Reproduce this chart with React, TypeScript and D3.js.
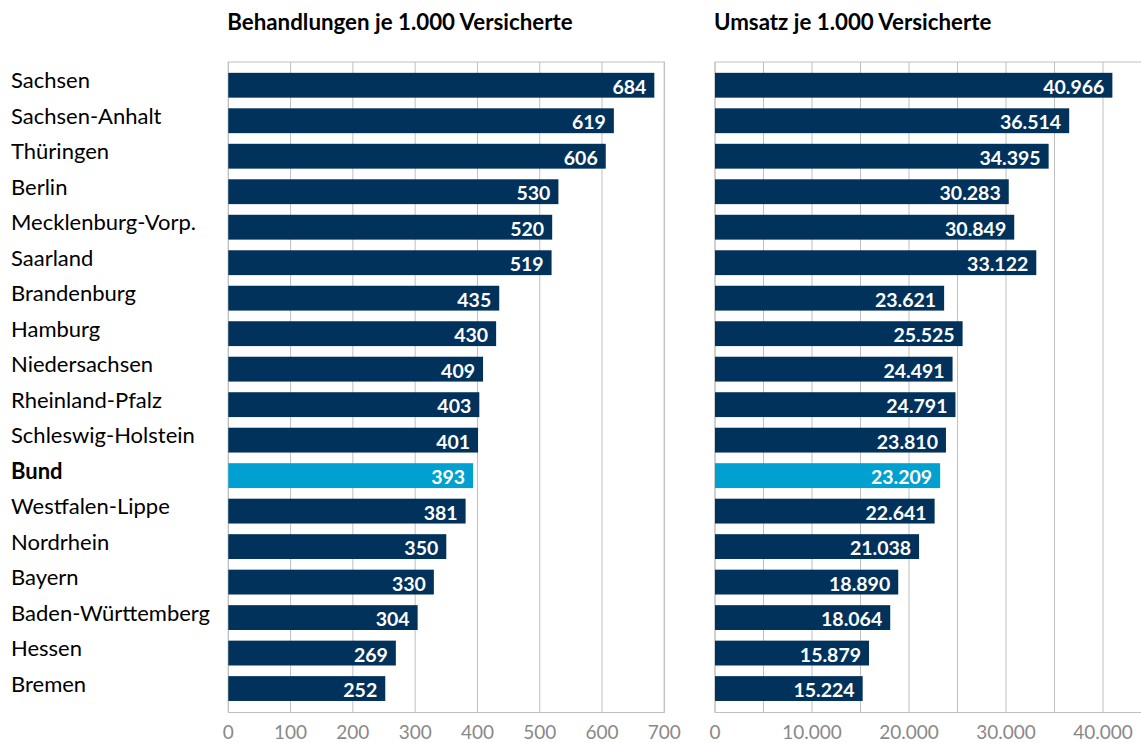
import React, { useEffect, useRef } from 'react';
import * as d3 from 'd3';

const laender = [
  'Sachsen', 'Sachsen-Anhalt', 'Thüringen', 'Berlin', 'Mecklenburg-Vorp.', 'Saarland',
  'Brandenburg', 'Hamburg', 'Niedersachsen', 'Rheinland-Pfalz', 'Schleswig-Holstein', 'Bund',
  'Westfalen-Lippe', 'Nordrhein', 'Bayern', 'Baden-Württemberg', 'Hessen', 'Bremen',
];
const behandlungen = [684, 619, 606, 530, 520, 519, 435, 430, 409, 403, 401, 393, 381, 350, 330, 304, 269, 252];
const umsatz = [
  40966, 36514, 34395, 30283, 30849, 33122, 23621, 25525, 24491,
  24791, 23810, 23209, 22641, 21038, 18890, 18064, 15879, 15224,
];
const behandlungenTicks = [0, 100, 200, 300, 400, 500, 600, 700];
const umsatzTicks = [0, 10000, 20000, 30000, 40000];
const umsatzGrid = [0, 5000, 10000, 15000, 20000, 25000, 30000, 35000, 40000, 45000];

const FONT = 'Lato, "Open Sans", sans-serif';
const NAVY = '#00325b';
const BLUE = '#00a0d0';

const de = d3.formatLocale({ decimal: ',', thousands: '.', grouping: [3], currency: ['', ' €'] });
const fmt = de.format(',d');

export default function App() {
  const ref = useRef<SVGSVGElement>(null);

  useEffect(() => {
    document.body.style.margin = '0';
    const svg = d3.select(ref.current);
    svg.selectAll('*').remove();

    const top = 62;
    const bottom = 712.5;

    const y = d3.scaleBand().domain(laender).range([67.5, 706.3]).paddingInner(0.3).paddingOuter(0.15);

    // Laender-Beschriftung links
    svg.append('g')
      .selectAll('text')
      .data(laender)
      .enter()
      .append('text')
      .attr('x', 11)
      .attr('y', (d) => y(d)! + y.bandwidth() / 2 + 3)
      .style('font-family', FONT)
      .style('font-size', '22px')
      .style('font-weight', (d) => (d === 'Bund' ? 700 : 400))
      .style('fill', '#000')
      .text((d) => d);

    function panel(x0: number, x1: number, domainMax: number, values: number[], grid: number[], ticks: number[], title: string) {
      const x = d3.scaleLinear().domain([0, domainMax]).range([x0, x1]);
      const g = svg.append('g');

      g.append('text')
        .attr('x', x0 - 1)
        .attr('y', 30)
        .style('font-family', FONT)
        .style('font-size', '22.3px')
        .style('font-weight', 700)
        .text(title);

      g.append('g')
        .selectAll('line')
        .data(grid)
        .enter()
        .append('line')
        .attr('x1', (d) => x(d))
        .attr('x2', (d) => x(d))
        .attr('y1', top)
        .attr('y2', bottom)
        .style('stroke', '#bfbfbf')
        .style('stroke-width', 1);

      g.append('rect')
        .attr('x', x0)
        .attr('y', top)
        .attr('width', x1 - x0)
        .attr('height', bottom - top)
        .style('fill', 'none')
        .style('stroke', '#bfbfbf')
        .style('stroke-width', 1);

      g.append('g')
        .selectAll('rect')
        .data(values)
        .enter()
        .append('rect')
        .attr('x', x0)
        .attr('y', (_, i) => y(laender[i])!)
        .attr('width', (d) => x(d) - x0)
        .attr('height', y.bandwidth())
        .style('fill', (_, i) => (laender[i] === 'Bund' ? BLUE : NAVY));

      g.append('g')
        .selectAll('text')
        .data(values)
        .enter()
        .append('text')
        .attr('x', (d) => x(d) - 8)
        .attr('y', (_, i) => y(laender[i])! + y.bandwidth() / 2 + 8.5)
        .attr('text-anchor', 'end')
        .style('font-family', FONT)
        .style('font-size', '19.5px')
        .style('font-weight', 700)
        .style('fill', '#fff')
        .text((d) => fmt(d));

      g.append('g')
        .selectAll('text')
        .data(ticks)
        .enter()
        .append('text')
        .attr('x', (d) => x(d))
        .attr('y', 739)
        .attr('text-anchor', 'middle')
        .style('font-family', FONT)
        .style('font-size', '19px')
        .style('fill', '#898989')
        .text((d) => fmt(d));
    }

    panel(228.3, 664.3, 700, behandlungen, behandlungenTicks, behandlungenTicks, 'Behandlungen je 1.000 Versicherte');
    panel(715, 1151.5, 45000, umsatz, umsatzGrid, umsatzTicks, 'Umsatz je 1.000 Versicherte');
  }, []);

  return <svg ref={ref} width={1141} height={743} style={{ display: 'block', background: '#fff' }} />;
}
